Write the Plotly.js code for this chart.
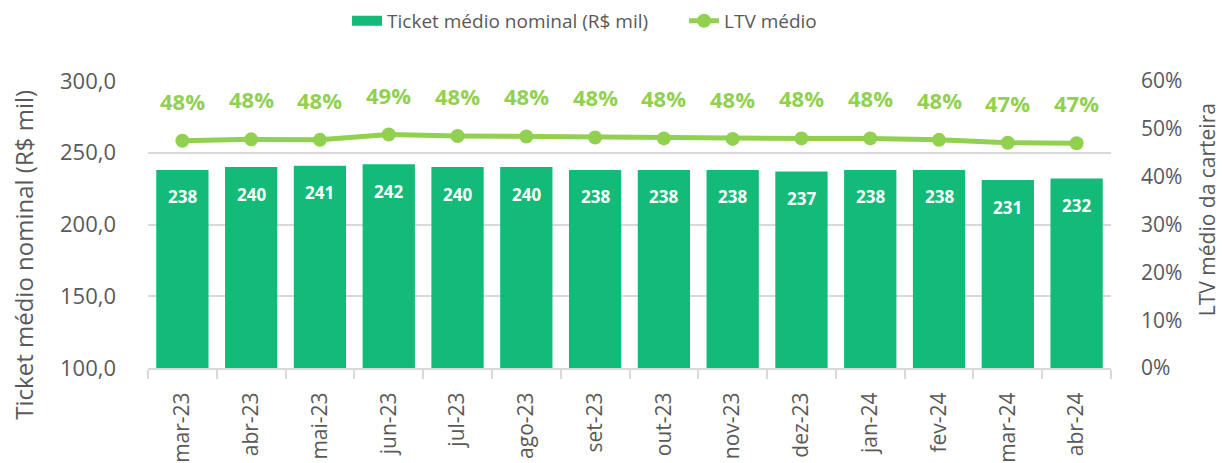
<!DOCTYPE html>
<html>
<head>
<meta charset="utf-8">
<script src="https://cdn.plot.ly/plotly-3.0.1.min.js"></script>
<style>html,body{margin:0;padding:0;background:#fff;}#chart{width:1222px;height:463px;}</style>
</head>
<body>
<div id="chart"></div>
<script>
const categories = ['mar-23','abr-23','mai-23','jun-23','jul-23','ago-23','set-23','out-23','nov-23','dez-23','jan-24','fev-24','mar-24','abr-24'];
const ticketValues = [238, 240, 241, 242, 240, 240, 238, 238, 238, 237, 238, 238, 231, 232];
const ltvValues = [47.5, 47.8, 47.7, 48.8, 48.5, 48.4, 48.2, 48.0, 47.9, 48.0, 48.0, 47.7, 47.1, 47.0];
const ltvLabels = ['48%','48%','48%','49%','48%','48%','48%','48%','48%','48%','48%','48%','47%','47%'];
const leftTicks = [100, 150, 200, 250, 300];
const rightTicks = [0, 10, 20, 30, 40, 50, 60];
const rightTickText = ['0%', '10%', '20%', '30%', '40%', '50%', '60%'];
const leftTitle = 'Ticket médio nominal (R$ mil)';
const rightTitle = 'LTV médio da carteira';

const FONT = 'Open Sans, Noto Sans, sans-serif';
const BAR_COLOR = '#13BA78';
const LINE_COLOR = '#92D050';
const GRAY = '#595959';

const traces = [
  {
    type: 'bar', x: categories, y: ticketValues,
    name: 'Ticket médio nominal (R$ mil)', showlegend: false,
    marker: {color: BAR_COLOR},
    hoverinfo: 'skip'
  },
  {
    // legend-only entry drawn as a wide filled rectangle like the reference
    type: 'scatter', mode: 'lines', x: [null], y: [null],
    name: 'Ticket médio nominal (R$ mil)',
    line: {color: BAR_COLOR, width: 15},
    hoverinfo: 'skip'
  },
  {
    type: 'scatter', mode: 'lines+markers', x: categories, y: ltvValues,
    yaxis: 'y2', name: 'LTV médio',
    line: {color: LINE_COLOR, width: 5},
    marker: {color: LINE_COLOR, size: 14},
    hoverinfo: 'skip'
  }
];

const annotations = [];
categories.forEach((c, i) => {
  annotations.push({
    x: c, y: ticketValues[i], xref: 'x', yref: 'y',
    text: '<b>' + ticketValues[i] + '</b>', showarrow: false,
    yshift: -27, font: {family: FONT, size: 17, color: '#ffffff'}
  });
  annotations.push({
    x: c, y: ltvValues[i], xref: 'x', yref: 'y2',
    text: '<b>' + ltvLabels[i] + '</b>', showarrow: false,
    yshift: 40, font: {family: FONT, size: 22, color: LINE_COLOR}
  });
});
annotations.push({
  x: -0.129, y: 0.394, xref: 'paper', yref: 'paper', xanchor: 'center', yanchor: 'middle',
  text: leftTitle, textangle: -90, showarrow: false,
  font: {family: FONT, size: 24, color: GRAY}
});
annotations.push({
  x: 1.1, y: 0.551, xref: 'paper', yref: 'paper', xanchor: 'center', yanchor: 'middle',
  text: rightTitle, textangle: -90, showarrow: false,
  font: {family: FONT, size: 21, color: GRAY}
});

const layout = {
  width: 1222, height: 463,
  margin: {l: 148, r: 111, t: 81, b: 95},
  paper_bgcolor: '#ffffff', plot_bgcolor: '#ffffff',
  font: {family: FONT, color: GRAY},
  separators: ',.',
  bargap: 0.24,
  showlegend: true,
  legend: {
    orientation: 'h', x: 0.284, xref: 'container', xanchor: 'left',
    y: 0.955, yref: 'container', yanchor: 'middle',
    font: {family: FONT, size: 19, color: GRAY}, traceorder: 'normal',
    entrywidth: 292, entrywidthmode: 'pixels'
  },
  xaxis: {
    type: 'category', range: [-0.5, categories.length - 0.5], autorange: false,
    tickangle: -90, automargin: false,
    tickfont: {family: FONT, size: 21, color: GRAY},
    ticks: 'outside', tickson: 'boundaries', ticklen: 9, tickcolor: '#d9d9d9', tickwidth: 2,
    showline: true, linecolor: '#d9d9d9', linewidth: 2,
    showgrid: false, ticklabelstandoff: 14
  },
  yaxis: {
    range: [100, 300], autorange: false, tickvals: leftTicks, tickformat: '.1f', automargin: false,
    tickfont: {family: FONT, size: 22, color: GRAY},
    showgrid: true, gridcolor: '#d9d9d9', gridwidth: 2, zeroline: false,
    showline: false, ticks: '', ticklabelstandoff: 31
  },
  yaxis2: {
    overlaying: 'y', side: 'right', range: [0, 60], autorange: false,
    tickvals: rightTicks, ticktext: rightTickText,
    automargin: false,
    tickfont: {family: FONT, size: 21, color: GRAY},
    showgrid: false, zeroline: false, showline: false, ticks: '', ticklabelstandoff: 29
  },
  annotations: annotations
};

Plotly.newPlot('chart', traces, layout, {displayModeBar: false, staticPlot: true});
</script>
</body>
</html>
